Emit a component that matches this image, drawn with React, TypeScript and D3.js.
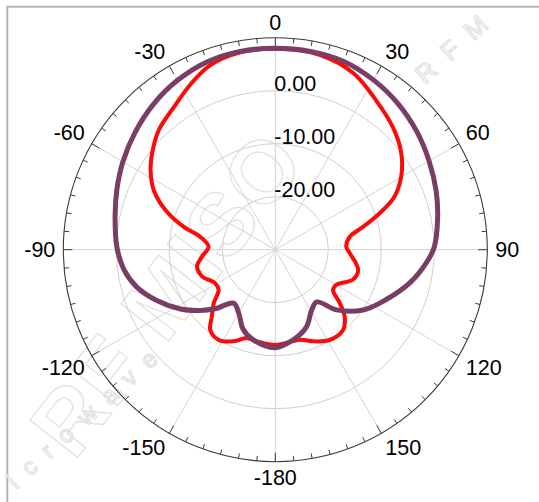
import React from 'react';
import * as d3 from 'd3';

// ---- data ----
const ringValues = [-20, -10, 0];
const ringLabels = ['-20.00', '-10.00', '0.00'];
const angleTicks = [0, 30, 60, 90, 120, 150, 180, -150, -120, -90, -60, -30];
const angleLabels = ['0', '30', '60', '90', '120', '150', '-180', '-150', '-120', '-90', '-60', '-30'];

const purpleAngles = [-180, -166, -158, -150, -142, -134.5, -129, -122, -113, -105, -97.5, -89, -78, -69, -60, -50, -40, -30, -20, -10, 0, 10, 20, 30, 40, 50, 60, 70, 79, 89, 95, 104, 114, 124.5, 134.5, 141.5, 149, 158, 168.5];
const purpleDb = [-11.5, -12.5, -13.8, -16.2, -17.2, -14.1, -11.8, -8.9, -5.6, -2.9, -1.2, -0.1, 0.9, 2.0, 3.2, 4.5, 5.8, 6.9, 7.7, 8.0, 8.0, 8.0, 7.8, 7.0, 6.0, 4.8, 3.5, 2.3, 1.2, 0.0, -1.4, -3.9, -7.0, -9.9, -13.8, -17.4, -16.7, -14.3, -12.7];

const redAngles = [-180, -168.6, -162, -155.5, -147.7, -141, -136.5, -131, -125.3, -119, -110, -102, -95.4, -87.4, -80.2, -76, -70.2, -64, -57.5, -52, -44.3, -35.5, -27, -19.5, -10, 0, 13, 24, 34, 44, 52.7, 60, 66, 70.8, 75.4, 80, 87.6, 92.8, 103.7, 111, 120, 125, 129.6, 134, 139.7, 148.8, 157.6, 164.7];
const redDb = [-12.0, -12.35, -12.5, -11.0, -9.9, -10.5, -12.6, -14.6, -16.9, -17.0, -15.3, -14.9, -16.1, -17.4, -15.6, -12.2, -8.0, -4.5, -2.1, -0.5, 1.5, 3.0, 5.1, 6.9, 7.8, 7.9, 7.7, 6.4, 4.0, 2.0, -0.1, -2.6, -5.4, -9.2, -12.9, -15.7, -16.6, -15.9, -13.9, -14.3, -16.7, -16.7, -14.2, -11.8, -10.2, -10.1, -11.3, -12.4];

const W = 539;
const H = 502;
const CX = 275.3;
const CY = 249.7;
const R = 212;
const FONT = 'Arial, "Liberation Sans", sans-serif';
const FS = 21.5;

export default function App() {
  const r = d3.scaleLinear().domain([-30, 10]).range([0, R]);
  const rad = (deg: number) => (deg * Math.PI) / 180;

  const line = d3
    .lineRadial<[number, number]>()
    .angle((d) => rad(d[0]))
    .radius((d) => r(d[1]))
    .curve(d3.curveCatmullRomClosed.alpha(0.5));

  const purplePts = purpleAngles.map((a, i) => [a, purpleDb[i]] as [number, number]);
  const redPts = redAngles.map((a, i) => [a, redDb[i]] as [number, number]);

  const ticks = d3.range(0, 360, 5);

  const charW = (t: string) =>
    t.split('').reduce((s, ch) => s + (ch === '-' ? 0.333 : 0.556) * FS, 0);
  const capH = 15;
  const r0 = 220;

  return (
    <svg
      width={W}
      height={H}
      style={{ position: 'absolute', left: 0, top: 0, background: '#fff' }}
    >
      <rect x={0} y={0} width={W} height={H} fill="#fff" />
      {/* frame */}
      <rect x={7.3} y={6.7} width={700} height={700} fill="none" stroke="#b4b4b4" strokeWidth={2} />

      {/* watermark */}
      <g fill="none" stroke="#e2e2e2" strokeWidth={1.3} fontFamily={FONT}>
        <text transform="translate(74,462) rotate(-52)" fontSize={88} fontWeight="bold" letterSpacing={2}>
          RF MISO
        </text>
        <text transform="translate(16,490) rotate(-42)" fontSize={24} letterSpacing={14}>
          icrowave
        </text>
        <text transform="translate(425,85) rotate(-42)" fontSize={26} letterSpacing={4}>
          R F M
        </text>
      </g>

      <g transform={`translate(${CX},${CY})`}>
        {/* rings */}
        {ringValues.map((v) => (
          <circle key={v} r={r(v)} fill="none" stroke="#cfcfcf" strokeWidth={1} />
        ))}
        {/* spokes */}
        {angleTicks.map((a) => (
          <line
            key={a}
            x1={0}
            y1={0}
            x2={R * Math.sin(rad(a))}
            y2={-R * Math.cos(rad(a))}
            stroke="#d4d4d4"
            strokeWidth={1}
          />
        ))}
        {/* outer axis */}
        <circle r={R} fill="none" stroke="#3a3a3a" strokeWidth={1.1} />
        {ticks.map((a) => {
          const len = a % 30 === 0 ? 9 : 5;
          const s = Math.sin(rad(a));
          const c = Math.cos(rad(a));
          return (
            <line
              key={a}
              x1={R * s}
              y1={-R * c}
              x2={(R - len) * s}
              y2={-(R - len) * c}
              stroke="#3a3a3a"
              strokeWidth={1}
            />
          );
        })}

        {/* data */}
        <path d={line(redPts) || ''} fill="none" stroke="#ff0808" strokeWidth={4} strokeLinejoin="round" />
        <path d={line(purplePts) || ''} fill="none" stroke="#7a3e66" strokeWidth={5} strokeLinejoin="round" />

        {/* ring labels */}
        {ringValues.map((v, i) => (
          <text key={v} x={-1} y={-r(v)} fontSize={FS} fontFamily={FONT} fill="#000">
            {ringLabels[i]}
          </text>
        ))}

        {/* angle labels */}
        {angleTicks.map((a, i) => {
          const s = Math.sin(rad(a));
          const c = Math.cos(rad(a));
          const w = charW(angleLabels[i]);
          const sx = Math.abs(s) < 0.01 ? 0 : Math.sign(s);
          const sy = Math.abs(c) < 0.01 ? 0 : Math.sign(c);
          const x = r0 * s + (sx * w) / 2;
          const y = -r0 * c - (sy * capH) / 2;
          return (
            <text
              key={a}
              x={x}
              y={y + capH / 2}
              textAnchor="middle"
              fontSize={FS}
              fontFamily={FONT}
              fill="#000"
            >
              {angleLabels[i]}
            </text>
          );
        })}
      </g>
    </svg>
  );
}
